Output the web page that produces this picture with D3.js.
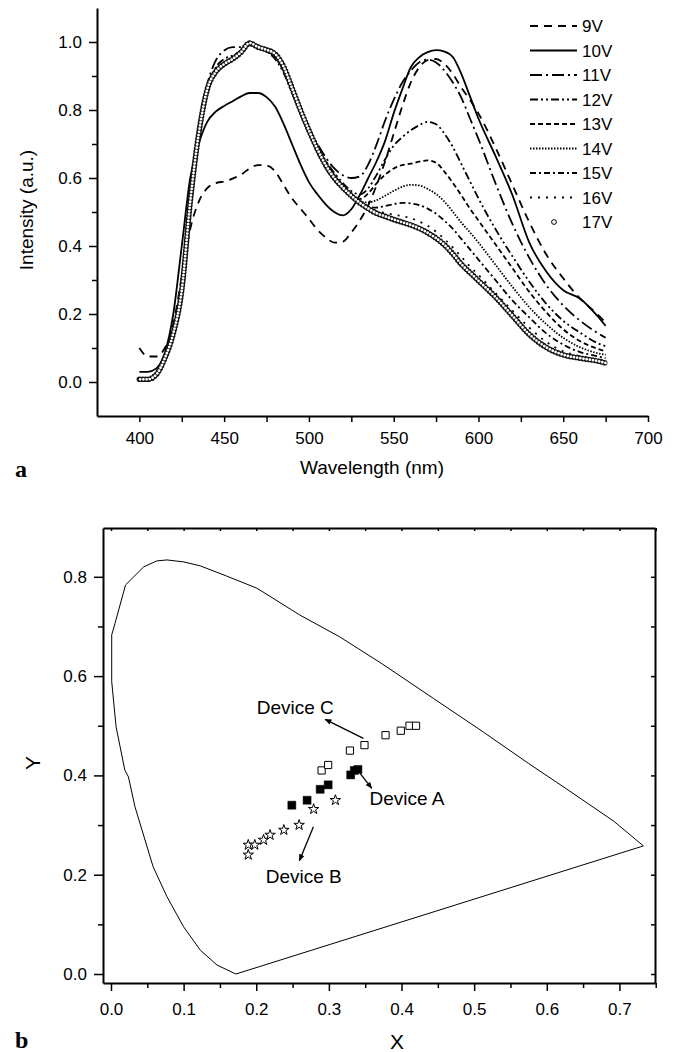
<!DOCTYPE html>
<html>
<head>
<meta charset="utf-8">
<script src="https://cdnjs.cloudflare.com/ajax/libs/d3/7.8.5/d3.min.js"></script>
<style>
  body { margin: 0; background: #fff; }
  svg text { font-family: "Liberation Sans", Arial, sans-serif; fill: #000; }
</style>
</head>
<body>
<svg id="chart" width="678" height="1052"></svg>
<script>
(function () {

  // ---- panel a: EL spectra at different voltages ----
  const wavelength = [400,405,410,415,420,425,430,435,440,445,450,455,460,465,470,475,480,485,490,495,
                      500,505,510,515,520,525,530,535,540,545,550,555,560,565,570,575,580,585,590,595,
                      600,610,620,630,640,650,660,670,675];

  const v9  = [0.10,0.075,0.075,0.10,0.17,0.31,0.45,0.53,0.57,0.585,0.59,0.598,0.61,0.628,0.638,0.637,0.62,0.58,0.54,0.51,
               0.48,0.448,0.425,0.41,0.413,0.44,0.475,0.52,0.58,0.65,0.73,0.81,0.88,0.925,0.947,0.95,0.935,0.905,0.865,0.83,
               0.79,0.69,0.58,0.47,0.375,0.305,0.245,0.20,0.175];
  const v10 = [0.03,0.03,0.04,0.085,0.20,0.40,0.60,0.70,0.765,0.795,0.812,0.826,0.84,0.85,0.85,0.838,0.81,0.76,0.70,0.64,
               0.588,0.552,0.522,0.50,0.49,0.508,0.55,0.60,0.65,0.71,0.79,0.86,0.925,0.955,0.97,0.976,0.972,0.955,0.905,0.84,
               0.775,0.665,0.55,0.41,0.325,0.27,0.245,0.195,0.165];
  const v11 = [0.01,0.01,0.025,0.07,0.15,0.29,0.54,0.75,0.875,0.945,0.975,0.985,0.985,0.99,0.985,0.975,0.955,0.915,0.86,0.80,
               0.745,0.70,0.66,0.628,0.608,0.60,0.605,0.64,0.70,0.77,0.83,0.88,0.915,0.94,0.948,0.94,0.915,0.88,0.835,0.775,
               0.715,0.585,0.465,0.365,0.285,0.225,0.18,0.145,0.13];
  const v12 = [0.01,0.01,0.024,0.07,0.145,0.28,0.53,0.74,0.865,0.925,0.95,0.96,0.975,0.993,0.985,0.972,0.95,0.91,0.85,0.79,
               0.735,0.69,0.65,0.615,0.585,0.562,0.552,0.57,0.61,0.655,0.695,0.72,0.74,0.755,0.765,0.758,0.73,0.69,0.64,0.59,
               0.54,0.45,0.37,0.295,0.23,0.18,0.145,0.115,0.105];
  const v13 = [0.01,0.01,0.023,0.07,0.145,0.275,0.53,0.735,0.862,0.918,0.94,0.955,0.972,0.995,0.985,0.975,0.955,0.92,0.86,0.80,
               0.74,0.688,0.645,0.608,0.578,0.552,0.538,0.555,0.585,0.61,0.628,0.638,0.642,0.648,0.652,0.645,0.618,0.585,0.548,0.51,
               0.475,0.405,0.335,0.265,0.205,0.155,0.12,0.098,0.09];
  const v14 = [0.01,0.01,0.023,0.07,0.144,0.272,0.53,0.732,0.86,0.915,0.938,0.952,0.972,0.996,0.985,0.975,0.96,0.925,0.862,0.80,
               0.74,0.686,0.64,0.603,0.575,0.548,0.53,0.528,0.535,0.548,0.562,0.574,0.58,0.578,0.568,0.553,0.53,0.50,0.468,0.44,
               0.41,0.345,0.28,0.22,0.17,0.13,0.102,0.085,0.08];
  const v15 = [0.01,0.01,0.023,0.07,0.144,0.271,0.53,0.731,0.86,0.914,0.937,0.951,0.971,0.996,0.985,0.976,0.962,0.926,0.863,0.80,
               0.74,0.685,0.639,0.602,0.574,0.546,0.525,0.515,0.513,0.518,0.523,0.527,0.525,0.52,0.51,0.495,0.474,0.45,0.42,0.39,
               0.36,0.30,0.24,0.19,0.143,0.11,0.088,0.076,0.07];
  const v16 = [0.009,0.009,0.022,0.07,0.143,0.27,0.53,0.73,0.86,0.913,0.936,0.95,0.97,0.997,0.985,0.977,0.964,0.927,0.864,0.80,
               0.74,0.685,0.638,0.601,0.573,0.548,0.525,0.512,0.503,0.497,0.492,0.488,0.482,0.472,0.46,0.442,0.42,0.395,0.368,0.34,
               0.315,0.262,0.21,0.16,0.118,0.09,0.076,0.067,0.063];
  const v17 = [0.008,0.008,0.022,0.07,0.143,0.27,0.53,0.73,0.86,0.912,0.935,0.95,0.97,0.997,0.985,0.977,0.965,0.928,0.865,0.80,
               0.74,0.685,0.637,0.60,0.572,0.548,0.527,0.51,0.496,0.487,0.478,0.47,0.462,0.452,0.439,0.423,0.403,0.376,0.346,0.322,
               0.298,0.25,0.195,0.14,0.102,0.08,0.07,0.062,0.056];

  const voltageLabels = ["9V","10V","11V","12V","13V","14V","15V","16V","17V"];
  const voltageSeries = [v9, v10, v11, v12, v13, v14, v15, v16, v17];
  const lineDashes = ["8,6", null, "12,4,2,4", "8,3,2,3,2,3", "5,3", "1.5,1.5", "6,3,2,3", "2,6", "circles"];

  const xTicksA = [400,450,500,550,600,650,700];
  const yTicksA = [0.0,0.2,0.4,0.6,0.8,1.0];

  // ---- panel b: CIE 1931 chromaticity ----
  const locusX = [0.172,0.146,0.123,0.100,0.077,0.058,0.033,0.024,0.019,0.007,0.001,0.001,0.0055,0.020,0.045,0.063,
                  0.077,0.100,0.123,0.159,0.201,0.260,0.315,0.373,0.444,0.513,0.575,0.627,0.692,0.733,0.172];
  const locusY = [0.000,0.018,0.048,0.095,0.156,0.216,0.337,0.397,0.411,0.498,0.589,0.683,0.706,0.7835,0.820,0.832,
                  0.834,0.830,0.822,0.8016,0.777,0.723,0.679,0.625,0.555,0.487,0.424,0.373,0.308,0.258,0.000];

  const deviceAX = [0.249,0.270,0.288,0.299,0.330,0.335,0.340];
  const deviceAY = [0.340,0.350,0.372,0.381,0.401,0.410,0.412];
  const deviceBX = [0.189,0.189,0.198,0.210,0.219,0.238,0.259,0.279,0.309];
  const deviceBY = [0.240,0.260,0.260,0.270,0.280,0.290,0.300,0.332,0.350];
  const deviceCX = [0.290,0.299,0.329,0.349,0.378,0.399,0.411,0.420];
  const deviceCY = [0.410,0.421,0.450,0.461,0.481,0.490,0.500,0.500];

  const xTicksB = [0,0.1,0.2,0.3,0.4,0.5,0.6,0.7];
  const yTicksB = [0,0.2,0.4,0.6,0.8];

  const svg = d3.select("#chart");

  // arrow head
  svg.append("defs").append("marker")
    .attr("id", "arrow")
    .attr("viewBox", "0 0 10 10")
    .attr("refX", 9).attr("refY", 5)
    .attr("markerWidth", 7).attr("markerHeight", 7)
    .attr("markerUnits", "userSpaceOnUse")
    .attr("orient", "auto")
    .append("path").attr("d", "M0,1 L10,5 L0,9 Z").attr("fill", "#000");

  function styleAxis(g, w) {
    g.selectAll(".domain").attr("stroke", "#000").attr("stroke-width", w);
    g.selectAll(".tick line").attr("stroke", "#000").attr("stroke-width", 1.5);
    g.selectAll(".tick text").attr("font-size", 17).attr("font-family", "Liberation Sans, Arial, sans-serif");
  }

  // ================= panel a =================
  const xa = d3.scaleLinear().domain([375, 700]).range([97, 648]);
  const ya = d3.scaleLinear().domain([-0.1, 1.1]).range([416, 8]);
  const ga = svg.append("g");

  const gxa = ga.append("g").attr("transform", "translate(0,416)")
    .call(d3.axisBottom(xa).tickValues(xTicksA).tickSize(6).tickSizeOuter(0).tickPadding(10).tickFormat(d3.format("d")));
  ga.append("g").attr("transform", "translate(0,416)")
    .call(d3.axisBottom(xa).tickValues(d3.range(425, 700, 50)).tickSize(6).tickSizeOuter(0).tickFormat(""))
    .call(g => g.select(".domain").remove())
    .call(g => styleAxis(g, 2));
  styleAxis(gxa, 2);

  const gya = ga.append("g").attr("transform", "translate(97,0)")
    .call(d3.axisLeft(ya).tickValues(yTicksA).tickSize(8).tickSizeOuter(0).tickPadding(7).tickFormat(d3.format(".1f")));
  ga.append("g").attr("transform", "translate(97,0)")
    .call(d3.axisLeft(ya).tickValues([0.1,0.3,0.5,0.7,0.9]).tickSize(5).tickSizeOuter(0).tickFormat(""))
    .call(g => g.select(".domain").remove())
    .call(g => styleAxis(g, 2));
  styleAxis(gya, 2);

  ga.append("text").attr("x", 372).attr("y", 474).attr("text-anchor", "middle")
    .attr("font-size", 19).text("Wavelength (nm)");
  ga.append("text").attr("transform", "translate(33,210) rotate(-90)").attr("text-anchor", "middle")
    .attr("font-size", 19).text("Intensity (a.u.)");

  const lineA = d3.line().curve(d3.curveMonotoneX);

  voltageSeries.forEach((vals, i) => {
    const pts = wavelength.map((w, k) => [xa(w), ya(vals[k])]);
    const dash = lineDashes[i];
    if (dash === "circles") {
      // open-circle markers along the curve
      ga.append("path").attr("d", lineA(pts)).attr("fill", "none")
        .attr("stroke", "#111").attr("stroke-width", 5.6)
        .attr("stroke-linecap", "round").attr("stroke-dasharray", "0,3.2");
      ga.append("path").attr("d", lineA(pts)).attr("fill", "none")
        .attr("stroke", "#fff").attr("stroke-width", 2.8)
        .attr("stroke-linecap", "round").attr("stroke-dasharray", "0,3.2")
        .attr("stroke-dashoffset", -0.8);
    } else {
      ga.append("path").attr("d", lineA(pts)).attr("fill", "none")
        .attr("stroke", "#000").attr("stroke-width", 1.8)
        .attr("stroke-dasharray", dash);
    }
  });

  // legend
  const legend = ga.append("g");
  voltageLabels.forEach((lab, i) => {
    const cy = 26 + i * 24.5;
    const dash = lineDashes[i];
    if (dash === "circles") {
      legend.append("circle").attr("cx", 554).attr("cy", cy).attr("r", 2.4)
        .attr("fill", "#fff").attr("stroke", "#000").attr("stroke-width", 1);
    } else {
      legend.append("line").attr("x1", 530).attr("x2", 577).attr("y1", cy).attr("y2", cy)
        .attr("stroke", "#000").attr("stroke-width", 1.8).attr("stroke-dasharray", dash);
    }
    legend.append("text").attr("x", 582).attr("y", cy + 6).attr("font-size", 17).text(lab);
  });

  ga.append("text").attr("x", 15).attr("y", 477)
    .style("font-family", "'Liberation Serif', 'Times New Roman', serif")
    .attr("font-weight", "bold").attr("font-size", 24).text("a");

  // ================= panel b =================
  const xb = d3.scaleLinear().domain([-0.011, 0.749]).range([103, 655]);
  const yb = d3.scaleLinear().domain([-0.0181, 0.8983]).range([983, 528]);
  const gb = svg.append("g");

  const gxb = gb.append("g").attr("transform", "translate(0,983)")
    .call(d3.axisBottom(xb).tickValues(xTicksB).tickSize(8).tickSizeOuter(0).tickPadding(12).tickFormat(d3.format(".1f")));
  gb.append("g").attr("transform", "translate(0,983)")
    .call(d3.axisBottom(xb).tickValues(d3.range(0.05, 0.76, 0.1)).tickSize(5).tickSizeOuter(0).tickFormat(""))
    .call(g => g.select(".domain").remove())
    .call(g => styleAxis(g, 2));
  styleAxis(gxb, 2);

  const gyb = gb.append("g").attr("transform", "translate(103,0)")
    .call(d3.axisLeft(yb).tickValues(yTicksB).tickSize(9).tickSizeOuter(0).tickPadding(7).tickFormat(d3.format(".1f")));
  gb.append("g").attr("transform", "translate(103,0)")
    .call(d3.axisLeft(yb).tickValues([0.1,0.3,0.5,0.7]).tickSize(5).tickSizeOuter(0).tickFormat(""))
    .call(g => g.select(".domain").remove())
    .call(g => styleAxis(g, 2));
  styleAxis(gyb, 2);

  // top and right frame with small inward ticks
  gb.append("g").attr("transform", "translate(0,528)")
    .call(d3.axisTop(xb).tickValues(d3.range(0, 0.76, 0.05)).tickSize(-3).tickSizeOuter(0).tickFormat(""))
    .call(g => styleAxis(g, 2));
  gb.append("g").attr("transform", "translate(655,0)")
    .call(d3.axisRight(yb).tickValues(d3.range(0, 0.85, 0.1)).tickSize(-4).tickSizeOuter(0).tickFormat(""))
    .call(g => styleAxis(g, 2));

  gb.append("text").attr("x", 397).attr("y", 1049).attr("text-anchor", "middle")
    .attr("font-size", 21).text("X");
  gb.append("text").attr("transform", "translate(40,763) rotate(-90)").attr("text-anchor", "middle")
    .attr("font-size", 21).text("Y");

  // spectral locus
  const lineB = d3.line().x(d => xb(d[0])).y(d => yb(d[1]));
  gb.append("path").attr("d", lineB(locusX.map((x, i) => [x, locusY[i]])))
    .attr("fill", "none").attr("stroke", "#000").attr("stroke-width", 1);

  // devices
  const sq = d3.symbol().type(d3.symbolSquare);
  deviceCX.forEach((x, i) => {
    gb.append("path").attr("d", sq.size(52)()).attr("transform", `translate(${xb(x)},${yb(deviceCY[i])})`)
      .attr("fill", "#fff").attr("stroke", "#000").attr("stroke-width", 1);
  });
  deviceAX.forEach((x, i) => {
    gb.append("path").attr("d", sq.size(64)()).attr("transform", `translate(${xb(x)},${yb(deviceAY[i])})`)
      .attr("fill", "#000").attr("stroke", "#000").attr("stroke-width", 0.5);
  });
  const star = d3.symbol().type(d3.symbolStar).size(34);
  deviceBX.forEach((x, i) => {
    gb.append("path").attr("d", star()).attr("transform", `translate(${xb(x)},${yb(deviceBY[i])})`)
      .attr("fill", "#fff").attr("stroke", "#000").attr("stroke-width", 1);
  });

  // annotations
  const notes = [
    { text: "Device C", tx: 0.2007, ty: 0.5237, from: [0.3475, 0.4747], to: [0.2948, 0.513] },
    { text: "Device A", tx: 0.3558, ty: 0.3404, from: [0.343, 0.404], to: [0.359, 0.374] },
    { text: "Device B", tx: 0.2131, ty: 0.1827, from: [0.2787, 0.2967], to: [0.2594, 0.2282] }
  ];
  notes.forEach(n => {
    gb.append("line")
      .attr("x1", xb(n.from[0])).attr("y1", yb(n.from[1]))
      .attr("x2", xb(n.to[0])).attr("y2", yb(n.to[1]))
      .attr("stroke", "#000").attr("stroke-width", 1.3)
      .attr("marker-end", "url(#arrow)");
    gb.append("text").attr("x", xb(n.tx)).attr("y", yb(n.ty)).attr("font-size", 19).text(n.text);
  });

  gb.append("text").attr("x", 15).attr("y", 1048)
    .style("font-family", "'Liberation Serif', 'Times New Roman', serif")
    .attr("font-weight", "bold").attr("font-size", 24).text("b");

}());
</script>
</body>
</html>
